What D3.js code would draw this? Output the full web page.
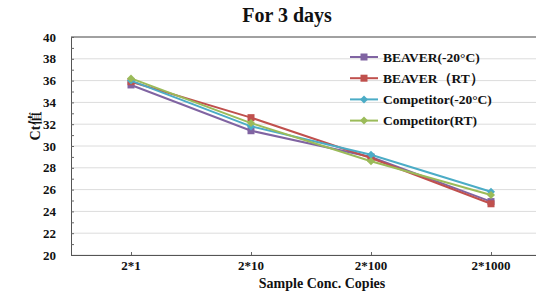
<!DOCTYPE html>
<html>
<head>
<meta charset="utf-8">
<script src="https://cdn.jsdelivr.net/npm/d3@7"></script>
<style>
  body { margin: 0; background: #fff; }
  text { font-family: "Liberation Serif", "Tinos", "DejaVu Serif", serif; font-weight: bold; fill: #111; }
  text.cjk { font-family: "Liberation Serif", "DejaVu Serif", "Noto Serif CJK SC", "Noto Sans CJK SC", serif; }
</style>
</head>
<body>
<div id="chart"></div>
<script>
// data
var categories = ["2*1", "2*10", "2*100", "2*1000"];
var seriesNames = ["BEAVER(-20°C)", "BEAVER（RT）", "Competitor(-20°C)", "Competitor(RT)"];
var beaverCold = [35.6, 31.4, 29.0, 24.9];
var beaverRT = [35.9, 32.6, 28.9, 24.7];
var compCold = [36.0, 31.8, 29.2, 25.8];
var compRT = [36.2, 32.1, 28.6, 25.5];
var yTicks = [20, 22, 24, 26, 28, 30, 32, 34, 36, 38, 40];

var colors = ["#8064a2", "#c0504d", "#4bacc6", "#9bbb59"];
var shapes = ["square", "square", "diamond", "diamond"];
var series = [beaverCold, beaverRT, compCold, compRT].map(function (v, i) {
  return { name: seriesNames[i], values: v, color: colors[i], shape: shapes[i] };
});

var svgWidth = 536;
var svgHeight = 296;
var margin = { top: 37, left: 71 };
var width = 480;   // plot runs off the right edge of the picture
var height = 218;

var svg = d3.select("#chart")
  .append("svg")
  .attr("width", svgWidth)
  .attr("height", svgHeight);

var chart = svg.append("g")
  .attr("transform", "translate(" + margin.left + "," + margin.top + ")");

var x = d3.scalePoint().domain(categories).range([0, width]).padding(0.5);
var y = d3.scaleLinear().domain([20, 40]).range([height, 0]);

// gridlines
chart.append("g")
  .selectAll("line")
  .data(yTicks)
  .enter()
  .append("line")
  .attr("x1", 0)
  .attr("x2", width)
  .attr("y1", function (d) { return y(d); })
  .attr("y2", function (d) { return y(d); })
  .attr("stroke", "#dcdcdc")
  .attr("stroke-width", 1);

// plot border (top)
chart.append("line")
  .attr("x1", 0).attr("x2", width)
  .attr("y1", 0).attr("y2", 0)
  .attr("stroke", "#555");

// left axis with minor ticks pointing inward
var leftAxis = d3.axisLeft(y).tickValues(d3.range(20, 41, 1)).tickSize(-3).tickFormat("");
var yAxis = chart.append("g").call(leftAxis);
yAxis.select(".domain").attr("stroke", "#555");
yAxis.selectAll(".tick line").attr("stroke", "#666");

chart.append("g")
  .selectAll("text")
  .data(yTicks)
  .enter()
  .append("text")
  .attr("x", -15)
  .attr("y", function (d) { return y(d); })
  .attr("dy", "0.35em")
  .attr("text-anchor", "end")
  .style("font-size", "13px")
  .text(function (d) { return d; });

// bottom axis
var bottomAxis = d3.axisBottom(x).tickSize(-3).tickFormat("");
var xAxis = chart.append("g")
  .attr("transform", "translate(0," + height + ")")
  .call(bottomAxis);
xAxis.select(".domain").attr("stroke", "#555");
xAxis.selectAll(".tick line").attr("stroke", "#666");

chart.append("g")
  .selectAll("text")
  .data(categories)
  .enter()
  .append("text")
  .attr("x", function (d) { return x(d); })
  .attr("y", height + 15)
  .attr("text-anchor", "middle")
  .style("font-size", "13px")
  .text(function (d) { return d; });

// lines
var line = d3.line()
  .x(function (d, i) { return x(categories[i]); })
  .y(function (d) { return y(d); });

function marker(g, shape, color) {
  if (shape === "square") {
    g.append("rect")
      .attr("x", -3.5).attr("y", -3.5)
      .attr("width", 7).attr("height", 7)
      .attr("fill", color);
  } else {
    g.append("path")
      .attr("d", "M0,-4L4,0L0,4L-4,0Z")
      .attr("fill", color);
  }
}

series.forEach(function (s) {
  chart.append("path")
    .datum(s.values)
    .attr("fill", "none")
    .attr("stroke", s.color)
    .attr("stroke-width", 2)
    .attr("d", line);

  chart.selectAll(null)
    .data(s.values)
    .enter()
    .append("g")
    .attr("transform", function (d, i) {
      return "translate(" + x(categories[i]) + "," + y(d) + ")";
    })
    .each(function () { marker(d3.select(this), s.shape, s.color); });
});

// legend
var legend = svg.append("g").attr("transform", "translate(350,57)");
series.forEach(function (s, i) {
  var row = legend.append("g").attr("transform", "translate(0," + (i * 21.2) + ")");
  row.append("line")
    .attr("x1", 0).attr("x2", 28)
    .attr("stroke", s.color)
    .attr("stroke-width", 2);
  marker(row.append("g").attr("transform", "translate(14,0)"), s.shape, s.color);
  row.append("text")
    .attr("x", 33)
    .attr("dy", "0.35em")
    .style("font-size", "13.5px")
    .text(s.name);
});

// titles
svg.append("text")
  .attr("x", 287)
  .attr("y", 22)
  .attr("text-anchor", "middle")
  .style("font-size", "20px")
  .text("For 3 days");

svg.append("text")
  .attr("class", "cjk")
  .attr("transform", "translate(40,126) rotate(-90)")
  .attr("text-anchor", "middle")
  .style("font-size", "14px")
  .text("Ct值");

svg.append("text")
  .attr("x", 322)
  .attr("y", 288)
  .attr("text-anchor", "middle")
  .style("font-size", "14px")
  .text("Sample Conc. Copies");
</script>
</body>
</html>
